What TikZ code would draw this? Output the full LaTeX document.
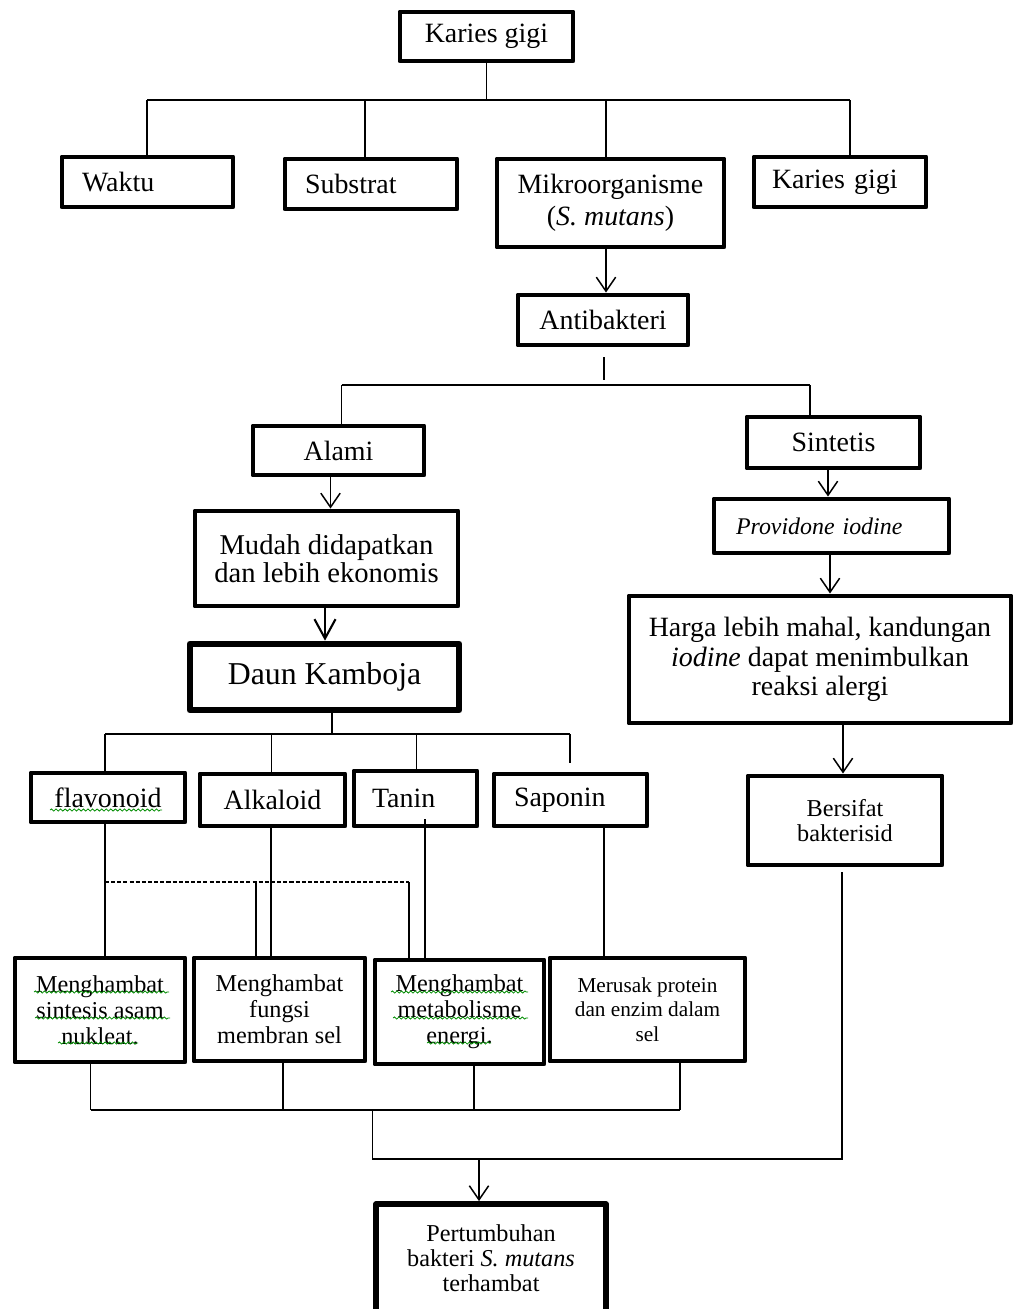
\documentclass[tikz,border=0pt]{standalone}
\usepackage{fontspec}
\setmainfont{Liberation Serif}
\usetikzlibrary{arrows.meta,decorations.pathmorphing}
\begin{document}
\begin{tikzpicture}[x=0.02cm,y=-0.02cm,
  box/.style={draw,line width=2.8pt,line join=round,inner sep=0pt,align=center},
  wh/.style 2 args={minimum width=#1*0.02cm,minimum height=#2*0.02cm},
  link/.style={line width=0.85pt},
  arr/.style={link,-{Straight Barb[length=8pt,width=11pt,line width=0.85pt]}},
  bigarr/.style={line width=1.2pt,-{Straight Barb[length=11pt,width=12pt,line width=1.2pt]}},
  dashlink/.style={link,dash pattern=on 2.3pt off 1.2pt},
  squig/.style={draw=green!55!black,line width=0.45pt,decorate,
    decoration={snake,amplitude=0.6pt,segment length=2.6pt}},
  fmain/.style={font=\fontsize{15.9}{18}\selectfont},
  fmid/.style={font=\fontsize{13.8}{14.7}\selectfont},
  fsmall/.style={font=\fontsize{12.1}{13.9}\selectfont},
]
\useasboundingbox (0,0) rectangle (1014,1309);
\clip (0,0) rectangle (1014,1309);

% ---- boxes ----
\node[box,fmain,wh={173}{49}] (top) at (486.5,36.5) {Karies gigi};
\node[box,fmain,align=left,inner xsep=0.4cm,text width=2.62cm,minimum height=1cm] (waktu) at (147.5,182) {Waktu};
\node[box,fmain,align=left,inner xsep=0.4cm,text width=2.64cm,minimum height=1cm] (substrat) at (371,184) {Substrat};
\node[box,font=\fontsize{15.9}{18.1}\selectfont,wh={227}{88}] (mikro) at (610.5,203) {Mikroorganisme\\(\textit{S. mutans})};
\node[box,fmain,align=left,inner xsep=0.36cm,text width=2.72cm,minimum height=1cm] (karies) at (840,182) {Karies gigi};
\node[box,fmain,wh={170}{50}] (anti) at (603,320) {Antibakteri};
\node[box,fmain,wh={171}{49}] (alami) at (338.5,450.5) {Alami};
\node[box,fmain,wh={173}{51}] (sintetis) at (833.5,442.5) {Sintetis};
\node[box,font=\fontsize{16.3}{15.9}\selectfont,wh={263}{95}] (mudah) at (326.5,558.5) {Mudah didapatkan\\dan lebih ekonomis};
\node[box,line width=3.8pt,font=\fontsize{18.1}{20}\selectfont,wh={269}{66}] (daun) at (324.5,677) {Daun Kamboja};
\node[box,font=\fontsize{13.6}{15}\selectfont\itshape,align=left,inner xsep=0.44cm,text width=3.82cm,minimum height=1.08cm] (prov) at (831.5,526) {Providone iodine};
\node[box,font=\fontsize{15.9}{16.7}\selectfont,wh={382}{127}] (harga) at (820,659.5) {Harga lebih mahal, kandungan\\\textit{iodine} dapat menimbulkan\\reaksi alergi};
\node[box,fmid,wh={194}{89}] (bersifat) at (845,820.5) {Bersifat\\bakterisid};
\node[box,fmain,wh={154}{49}] (flav) at (108,797.5) {flavonoid};
\node[box,fmain,wh={145}{52}] (alk) at (272.5,800) {Alkaloid};
\node[box,fmain,align=left,inner xsep=0.36cm,text width=1.74cm,minimum height=1.1cm] (tanin) at (415.5,798.5) {Tanin};
\node[box,fmain,align=left,inner xsep=0.4cm,text width=2.26cm,minimum height=1.04cm] (sapo) at (570.5,800) {Saponin};
\node[box,fmid,wh={170}{104}] (m1) at (100,1010) {Menghambat\\sintesis asam\\nukleat.};
\node[box,fmid,wh={171}{103}] (m2) at (279.5,1009.5) {Menghambat\\fungsi\\membran sel};
\node[box,fmid,wh={169}{104}] (m3) at (459.5,1012) {Menghambat\\metabolisme\\energi.};
\node[box,fsmall,wh={195}{103}] (m4) at (647.5,1009.5) {Merusak protein\\dan enzim dalam\\sel};
\node[box,line width=3.3pt,font=\fontsize{13.8}{14.2}\selectfont,wh={230}{108}] (pert) at (491,1258) {Pertumbuhan\\bakteri \textit{S. mutans}\\terhambat};

% ---- branching from the top ----
\coordinate (h1l) at (147,100);
\coordinate (h1r) at (850,100);
\coordinate (d2) at (365,100);
\coordinate (d3) at (606,100);
\draw[link] (top.south) -- (top.south |- h1l);
\draw[link] (h1l) -- (h1r);
\draw[link] (h1l) -- (h1l |- waktu.north);
\draw[link] (d2) -- (d2 |- substrat.north);
\draw[link] (d3) -- (d3 |- mikro.north);
\draw[link] (h1r) -- (h1r |- karies.north);
\draw[arr] (d3 |- mikro.south) -- (d3 |- anti.north);

% ---- natural / synthetic split ----
\coordinate (a4) at (604,385);
\coordinate (h2l) at (341.5,385);
\coordinate (h2r) at (810,385);
\draw[link,shorten <=0.2cm,shorten >=0.1cm] (a4 |- anti.south) -- (a4);
\draw[link] (h2l) -- (h2r);
\draw[link] (h2l) -- (h2l |- alami.north);
\draw[link] (h2r) -- (h2r |- sintetis.north);

% ---- natural branch ----
\coordinate (c5) at (330.5,0);
\coordinate (c5b) at (325,0);
\draw[arr] (c5 |- alami.south) -- (c5 |- mudah.north);
\draw[bigarr] (c5b |- mudah.south) -- (c5b |- daun.north);
\coordinate (c6) at (332,734);
\coordinate (h3l) at (105,734);
\coordinate (h3r) at (570,734);
\coordinate (c7) at (271.5,734);
\coordinate (c8) at (416.5,734);
\draw[link] (c6 |- daun.south) -- (c6);
\draw[link] (h3l) -- (h3r);
\draw[link] (h3l) -- (h3l |- flav.north);
\draw[link] (c7) -- (c7 |- alk.north);
\draw[link] (c8) -- (c8 |- tanin.north);
\draw[link,shorten >=0.18cm] (h3r) -- (h3r |- sapo.north);

% ---- synthetic branch ----
\coordinate (s1) at (828,0);
\coordinate (s2) at (830,0);
\coordinate (s3) at (843,0);
\draw[arr] (s1 |- sintetis.south) -- (s1 |- prov.north);
\draw[arr] (s2 |- prov.south) -- (s2 |- harga.north);
\draw[arr] (s3 |- harga.south) -- (s3 |- bersifat.north);

% ---- compounds to mechanisms ----
\coordinate (c9) at (105,882);
\coordinate (c10) at (425,0);
\coordinate (c11) at (604,0);
\coordinate (c12) at (409,882);
\coordinate (c13) at (256,882);
\coordinate (c7b) at (271,0);
\draw[link] (c9 |- flav.south) -- (c9 |- m1.north);
\draw[link] (c7b |- alk.south) -- (c7b |- m2.north);
\draw[link,shorten <=-0.18cm] (c10 |- tanin.south) -- (c10 |- m3.north);
\draw[link] (c11 |- sapo.south) -- (c11 |- m4.north);
\draw[dashlink] (c9) -- (c12);
\draw[link] (c13) -- (c13 |- m2.north);
\draw[link] (c12) -- (c12 |- m3.north);

% ---- merging into the outcome ----
\coordinate (e1) at (90.5,1110);
\coordinate (e2) at (283,1110);
\coordinate (e3) at (474,1110);
\coordinate (e4) at (680,1110);
\coordinate (f1) at (372.6,1110);
\coordinate (f2) at (372.6,1159);
\coordinate (f3) at (842,1159);
\coordinate (g1) at (479,1159);
\draw[link] (m1.south -| e1) -- (e1);
\draw[link] (m2.south -| e2) -- (e2);
\draw[link] (m3.south -| e3) -- (e3);
\draw[link] (m4.south -| e4) -- (e4);
\draw[link] (e1) -- (e4);
\draw[link,shorten >=0.1cm] (f1) -- (f2) -- (f3) -- (f3 |- bersifat.south);
\draw[arr] (g1) -- (g1 |- pert.north);

% ---- spell-check underlines ----
\path[squig] (50,810) -- (162,810);
\path[squig] (34,992) -- (169,992);
\path[squig] (35,1018) -- (170,1018);
\path[squig] (58,1043) -- (138,1043);
\path[squig] (391,992) -- (528,992);
\path[squig] (393,1018) -- (528,1018);
\path[squig] (427,1043) -- (491,1043);
\end{tikzpicture}
\end{document}
